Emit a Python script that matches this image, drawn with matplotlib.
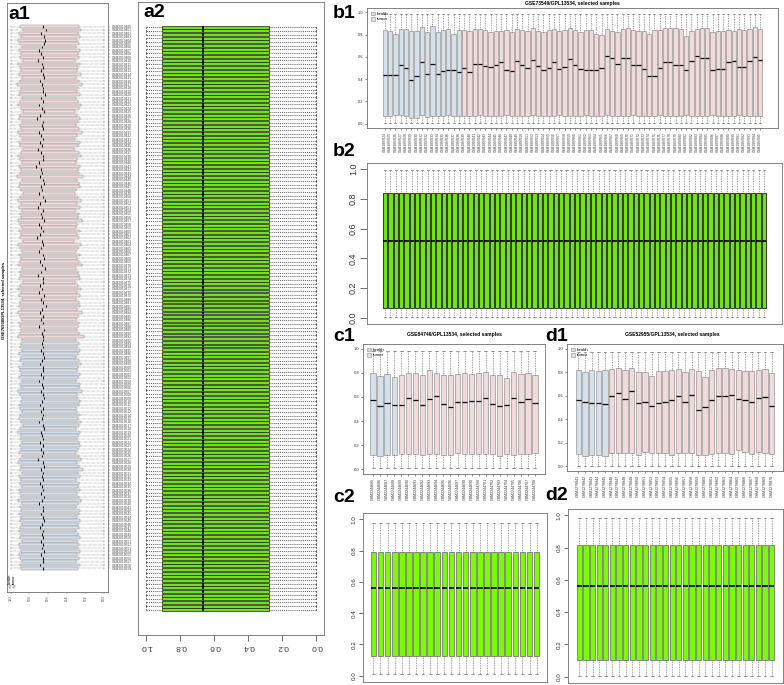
import numpy as np
import matplotlib
matplotlib.use('Agg')
import matplotlib.pyplot as plt
from matplotlib.patches import Patch, Rectangle

plt.rcParams['font.family'] = ['Liberation Sans', 'DejaVu Sans']

# ---------------- data ----------------
# a1: GSE76938 raw (tumor rows first, then health)
a1_med_tumor = [0.66,0.62,0.68,0.64,0.63,0.64,0.67,0.70,0.68,0.66,
                0.71,0.67,0.65,0.68,0.66,0.64,0.69,0.67,0.66,0.65,
                0.63,0.68,0.66,0.70,0.67,0.64,0.69,0.72,0.66,0.67,
                0.65,0.70,0.68,0.66,0.69,0.67,0.71,0.68,0.65,0.66,
                0.70,0.73,0.68,0.67,0.69,0.66,0.64,0.68,0.67,0.70,
                0.65,0.63,0.69,0.71,0.66,0.68,0.67,0.64,0.70,0.68,
                0.66,0.69,0.72,0.67,0.65,0.68,0.70,0.66,0.64,0.69,
                0.67,0.63,0.68,0.71,0.66,0.65,0.69,0.67,0.70,0.64,
                0.68,0.66,0.62,0.67,0.69,0.65,0.68,0.66,0.70,0.64,
                0.67,0.65,0.66]
a1_q3_tumor = [0.90,0.87,0.91,0.89,0.92,0.90,0.88,0.91,0.89,0.90,
               0.87,0.92,0.90,0.89,0.91,0.88,0.90,0.93,0.89,0.90,
               0.91,0.88,0.90,0.92,0.89,0.87,0.90,0.91,0.88,0.90,
               0.89,0.92,0.90,0.88,0.91,0.90,0.87,0.89,0.92,0.90,
               0.88,0.91,0.89,0.90,0.93,0.88,0.90,0.91,0.89,0.87,
               0.90,0.92,0.89,0.91,0.88,0.90,0.89,0.92,0.90,0.88,
               0.91,0.89,0.90,0.87,0.92,0.90,0.88,0.91,0.89,0.90,
               0.92,0.88,0.90,0.89,0.91,0.87,0.90,0.92,0.89,0.91,
               0.88,0.90,0.91,0.89,0.92,0.90,0.88,0.91,0.90,0.89,
               0.90,0.92,0.88]
a1_q1_tumor = [0.27,0.25,0.28,0.26,0.29,0.27,0.30,0.26,0.28,0.27,
               0.31,0.26,0.28,0.29,0.25,0.30,0.27,0.24,0.28,0.29,
               0.26,0.30,0.28,0.25,0.27,0.31,0.29,0.26,0.28,0.30,
               0.27,0.24,0.29,0.31,0.26,0.28,0.32,0.27,0.25,0.29,
               0.30,0.26,0.28,0.27,0.23,0.29,0.27,0.26,0.30,0.31,
               0.28,0.25,0.29,0.26,0.31,0.27,0.28,0.24,0.29,0.30,
               0.26,0.29,0.27,0.32,0.25,0.28,0.30,0.26,0.29,0.27,
               0.24,0.30,0.28,0.27,0.26,0.31,0.28,0.25,0.29,0.26,
               0.30,0.27,0.26,0.29,0.24,0.28,0.30,0.27,0.28,0.29,
               0.27,0.22,0.30]
a1_med_health = [0.67,0.65,0.68,0.66,0.64,0.67,0.69,0.66,0.65,0.68,
                 0.66,0.70,0.67,0.65,0.68,0.66,0.64,0.67,0.69,0.66,
                 0.68,0.65,0.67,0.70,0.66,0.64,0.68,0.67,0.65,0.69,
                 0.66,0.68,0.65,0.67,0.71,0.66,0.64,0.68,0.66,0.67,
                 0.65,0.69,0.67,0.66,0.68,0.64,0.67,0.70,0.65,0.66,
                 0.68,0.66,0.64,0.67,0.69,0.65,0.67,0.66,0.68,0.65,
                 0.67,0.64,0.68,0.66,0.65,0.69,0.66]
a1_q3_health = [0.89,0.90,0.88,0.91,0.89,0.90,0.87,0.91,0.90,0.89,
                0.91,0.88,0.90,0.89,0.92,0.90,0.88,0.89,0.91,0.90,
                0.88,0.90,0.91,0.89,0.87,0.90,0.92,0.89,0.90,0.88,
                0.90,0.89,0.91,0.88,0.90,0.92,0.89,0.90,0.88,0.91,
                0.89,0.90,0.88,0.91,0.90,0.89,0.92,0.88,0.90,0.89,
                0.91,0.89,0.90,0.88,0.90,0.91,0.89,0.90,0.88,0.91,
                0.90,0.89,0.91,0.90,0.88,0.90,0.89]
a1_q1_health = [0.27,0.29,0.26,0.28,0.30,0.27,0.25,0.28,0.29,0.26,
                0.28,0.30,0.26,0.27,0.24,0.29,0.28,0.26,0.27,0.30,
                0.29,0.26,0.28,0.25,0.27,0.30,0.26,0.28,0.29,0.27,
                0.26,0.28,0.30,0.27,0.25,0.29,0.27,0.23,0.28,0.26,
                0.30,0.27,0.28,0.26,0.29,0.27,0.25,0.28,0.30,0.26,
                0.27,0.29,0.26,0.28,0.27,0.30,0.28,0.26,0.29,0.27,
                0.28,0.26,0.29,0.27,0.30,0.26,0.28]
a1_whisker = (0.0, 1.0)
a1_title = "GSE76938/GPL13534, selected samples"
a1_first_gsm = 2019400

# a2: normalized (identical boxes)
a2_box = dict(whislo=0.0, q1=0.28, med=0.665, q3=0.91, whishi=1.0)

# b1: GSE73549 raw (15 health then 57 tumor)
b1_med = [0.44,0.44,0.44,0.53,0.50,0.39,0.43,0.55,0.45,0.54,0.45,0.47,0.48,0.48,0.46,
          0.50,0.46,0.54,0.54,0.52,0.51,0.53,
          0.55,0.48,0.47,0.56,0.53,0.50,0.57,0.52,0.48,0.50,0.55,0.49,0.51,0.58,0.53,0.49,0.48,
          0.48,0.48,0.50,0.61,0.59,0.54,0.59,0.59,0.53,0.53,0.49,0.43,0.43,0.50,0.55,0.55,0.53,
          0.53,0.48,0.56,0.61,0.59,0.59,0.48,0.49,0.49,0.55,0.56,0.51,0.51,0.56,0.60,0.57]
b1_q3 = [0.84,0.83,0.81,0.85,0.85,0.83,0.83,0.87,0.82,0.88,0.82,0.84,0.85,0.81,0.84,
         0.84,0.83,0.85,0.85,0.84,0.82,0.83,
         0.83,0.84,0.82,0.85,0.84,0.83,0.86,0.83,0.82,0.84,0.85,0.83,0.84,0.86,0.84,0.82,0.84,
         0.84,0.81,0.80,0.85,0.83,0.82,0.85,0.86,0.84,0.83,0.83,0.81,0.84,0.84,0.86,0.86,0.86,
         0.85,0.79,0.83,0.85,0.86,0.86,0.82,0.83,0.83,0.84,0.83,0.85,0.84,0.85,0.87,0.85]
b1_q1 = [0.07,0.07,0.075,0.075,0.07,0.05,0.05,0.075,0.06,0.07,0.07,0.07,0.075,0.07,0.07,
         0.07,0.065,0.07,0.075,0.07,0.07,0.065,
         0.07,0.075,0.07,0.065,0.07,0.07,0.075,0.07,0.065,0.07,0.07,0.075,0.07,0.065,0.07,0.07,0.075,
         0.07,0.065,0.07,0.075,0.07,0.07,0.065,0.07,0.075,0.07,0.065,0.07,0.07,0.075,0.07,0.065,0.07,
         0.07,0.075,0.07,0.065,0.07,0.07,0.075,0.07,0.065,0.07,0.07,0.075,0.07,0.065,0.07,0.07]
b1_n_health = 15
b1_whisker = (0.005, 0.99)
b1_title = "GSE73549/GPL13534, selected samples"
b1_first_gsm = 1897624

b2_box = dict(whislo=0.005, q1=0.07, med=0.52, q3=0.84, whishi=0.99)

# c1: GSE84749 raw (4 health then 20 tumor)
c1_med = [0.574,0.522,0.549,0.536,
          0.535,0.59,0.575,0.535,0.58,0.605,0.54,0.52,0.555,0.56,
          0.565,0.565,0.595,0.545,0.525,0.53,0.59,0.555,0.58,0.55]
c1_q3 = [0.80,0.775,0.79,0.77,
         0.78,0.80,0.80,0.785,0.82,0.80,0.78,0.78,0.79,0.80,
         0.79,0.80,0.805,0.78,0.785,0.76,0.805,0.79,0.80,0.78]
c1_q1 = [0.12,0.11,0.115,0.115,
         0.13,0.125,0.125,0.12,0.125,0.13,0.12,0.115,0.135,0.125,
         0.125,0.125,0.125,0.13,0.11,0.125,0.12,0.125,0.125,0.135]
c1_n_health = 4
c1_whisker = (0.01, 0.98)
c1_title = "GSE84749/GPL13534, selected samples"
c1_first_gsm = 2244685

c2_box = dict(whislo=0.01, q1=0.125, med=0.56, q3=0.79, whishi=0.975)

# d1: GSE52955 raw (5 health then 25 tumor)
d1_med = [0.56,0.545,0.535,0.54,0.53,
          0.595,0.625,0.575,0.64,0.535,0.55,0.51,0.54,0.545,0.565,
          0.60,0.55,0.61,0.48,0.505,0.56,0.60,0.60,0.61,0.57,
          0.565,0.55,0.58,0.59,0.51]
d1_q3 = [0.815,0.805,0.82,0.81,0.815,
         0.83,0.84,0.82,0.84,0.80,0.80,0.77,0.81,0.81,0.82,
         0.825,0.80,0.83,0.81,0.76,0.82,0.835,0.835,0.83,0.82,
         0.81,0.81,0.815,0.83,0.79]
d1_q1 = [0.105,0.09,0.095,0.095,0.09,
         0.11,0.11,0.11,0.11,0.10,0.12,0.11,0.11,0.11,0.10,
         0.11,0.11,0.11,0.10,0.10,0.105,0.11,0.11,0.105,0.14,
         0.125,0.105,0.12,0.11,0.105]
d1_n_health = 5
d1_whisker = (0.005, 0.975)
d1_title = "GSE52955/GPL13534, selected samples"
d1_first_gsm = 1278841

d2_box = dict(whislo=0.005, q1=0.105, med=0.565, q3=0.815, whishi=0.985)

yticks = [0.0, 0.2, 0.4, 0.6, 0.8, 1.0]
ytick_labels = ["0.0", "0.2", "0.4", "0.6", "0.8", "1.0"]

# ---------------- style ----------------
PINK = '#F0DADA'
BLUE = '#D6E0EA'
EDGE = '#8C8C8C'
GREEN_A = '#6FE21A'
GREEN_C = '#7CFC00'
SPINE = '#6E6E6E'

W, H = 784, 685
fig = plt.figure(figsize=(W / 100, H / 100), dpi=100)


def px_axes(l, t, r, b):
    return fig.add_axes([l / W, 1 - b / H, (r - l) / W, (b - t) / H])


def fx(x):
    return x / W


def fy(y):
    return 1 - y / H


def stats_from(med, q1, q3, whisk):
    return [dict(whislo=whisk[0], q1=a, med=m, q3=b, whishi=whisk[1], fliers=[])
            for m, a, b in zip(med, q1, q3)]


def draw_boxes(ax, st, colors, orient='vertical', edge=EDGE, lw=0.5, medlw=1.0,
               wlw=0.4, wcol='#444444'):
    n = len(st)
    pos = np.arange(1, n + 1)
    bp = ax.bxp(st, positions=pos, widths=0.8, capwidths=0.4, patch_artist=True,
                showfliers=False, orientation=orient,
                boxprops=dict(linewidth=lw, edgecolor=edge),
                whiskerprops=dict(linestyle=(0, (1.5, 1.5)), linewidth=wlw, color=wcol),
                capprops=dict(linewidth=wlw, color=wcol),
                medianprops=dict(color='black', linewidth=medlw, solid_capstyle='butt'))
    for p, c in zip(bp['boxes'], colors):
        p.set_facecolor(c)
    return (0.5 - 0.04 * n, n + 0.5 + 0.04 * n)


def style_frame(ax, lw=0.6):
    for s in ax.spines.values():
        s.set_color(SPINE)
        s.set_linewidth(lw)


def panel_label(x, y, s):
    fig.text(fx(x), fy(y), s, fontsize=14, fontweight='bold', ha='left', va='top')


def group_legend(ax, fs=3.2):
    h = [Patch(facecolor=BLUE, edgecolor=EDGE, linewidth=0.4, label='health'),
         Patch(facecolor=PINK, edgecolor=EDGE, linewidth=0.4, label='tumor')]
    ax.legend(handles=h, loc='upper left', frameon=False, fontsize=fs,
              handlelength=0.9, handleheight=0.9, handletextpad=0.5,
              borderaxespad=0.4, labelspacing=0.25)


def raw_vertical(ax, med, q1, q3, whisk, n_health, first_gsm, title, title_x, title_y,
                 ytfs=3.0, xlfs=2.4):
    st = stats_from(med, q1, q3, whisk)
    n = len(st)
    colors = [BLUE] * n_health + [PINK] * (n - n_health)
    xl = draw_boxes(ax, st, colors, lw=0.45, medlw=0.9)
    ax.set_xlim(*xl)
    ax.set_ylim(-0.04, 1.04)
    ax.set_yticks(yticks)
    ax.set_yticklabels(ytick_labels, fontsize=ytfs)
    labels = ["GSM%d" % (first_gsm + i) for i in range(n)]
    ax.set_xticks(np.arange(1, n + 1))
    ax.set_xticklabels(labels, rotation=90, fontsize=xlfs)
    ax.tick_params(length=1.5, width=0.4, pad=1.2, colors='#333333')
    style_frame(ax)
    group_legend(ax)
    fig.text(fx(title_x), fy(title_y), title, fontsize=3.6, fontweight='bold',
             ha='center', va='center')


def norm_vertical(ax, box, n, edge, color, ytfs=6, tlen=4):
    st = [dict(box, fliers=[]) for _ in range(n)]
    xl = draw_boxes(ax, st, [color] * n, edge=edge, lw=0.6, medlw=1.2)
    ax.set_xlim(*xl)
    ax.set_ylim(-0.04, 1.04)
    ax.set_yticks(yticks)
    ax.set_yticklabels(ytick_labels, fontsize=ytfs, rotation=90, va='center')
    ax.set_xticks([])
    ax.tick_params(axis='y', length=tlen, width=0.5, pad=1.5, colors='#333333')
    style_frame(ax)


# ---------------- a1 ----------------
A1_BOTTOM = 592
ax = px_axes(7, 3, 108, A1_BOTTOM)
a1_med = a1_med_tumor + a1_med_health
a1_q1 = a1_q1_tumor + a1_q1_health
a1_q3 = a1_q3_tumor + a1_q3_health
st = stats_from(a1_med, a1_q1, a1_q3, a1_whisker)
n = len(st)
cols = [PINK] * len(a1_med_tumor) + [BLUE] * len(a1_med_health)
yl = draw_boxes(ax, st, cols, orient='horizontal', lw=0.35, medlw=0.7, wlw=0.3)
ax.set_ylim(yl[1], yl[0])
ax.set_xlim(1.04, -0.04)
ax.set_xticks(yticks)
ax.set_xticklabels(ytick_labels, fontsize=3, rotation=90)
ax.yaxis.tick_right()
ax.set_yticks(np.arange(1, n + 1))
ax.set_yticklabels(["GSM%d" % (a1_first_gsm + i) for i in range(n)], fontsize=2.3)
ax.tick_params(length=1.5, width=0.3, pad=1.0, colors='#444444')
style_frame(ax)
fig.text(fx(4), fy(300), a1_title, rotation=90, fontsize=3.0, fontweight='bold',
         ha='center', va='center')
# rotated legend at bottom-left of a1
for xx, c, lab in [(10, BLUE, 'health'), (14, PINK, 'tumor')]:
    fig.patches.append(Rectangle((fx(xx - 1.3), fy(A1_BOTTOM - 4)), 2.6 / W, 2.6 / H,
                                 facecolor=c, edgecolor=EDGE, linewidth=0.3,
                                 transform=fig.transFigure, figure=fig))
    fig.text(fx(xx), fy(A1_BOTTOM - 8), lab, rotation=90, fontsize=2.8, ha='center',
             va='bottom')
panel_label(8, 6, 'a1')

# ---------------- a2 ----------------
ax = px_axes(138, 2, 324, 635)
st = [dict(a2_box, fliers=[]) for _ in range(n)]
yl = draw_boxes(ax, st, [GREEN_A] * n, orient='horizontal', edge='#1E1E1E',
                lw=0.5, medlw=1.2, wlw=0.5, wcol='#222222')
ax.set_ylim(yl[1], yl[0])
ax.set_xlim(1.05, -0.045)
ax.set_yticks([])
ax.set_xticks(yticks)
ax.set_xticklabels(ytick_labels, fontsize=6, rotation=180)
ax.tick_params(axis='x', length=4, width=0.5, pad=2, colors='#333333')
style_frame(ax)
panel_label(143, 4, 'a2')

# ---------------- b1 / b2 ----------------
ax = px_axes(367, 8, 778, 128)
raw_vertical(ax, b1_med, b1_q1, b1_q3, b1_whisker, b1_n_health, b1_first_gsm,
             b1_title, 572, 3.5, ytfs=2.8, xlfs=2.3)
panel_label(333, 5, 'b1')

ax = px_axes(367, 163, 782, 324)
norm_vertical(ax, b2_box, len(b1_med), '#1E1E1E', GREEN_A, ytfs=6.5, tlen=5)
panel_label(333, 143, 'b2')

# ---------------- c1 / c2 ----------------
ax = px_axes(363, 344, 545, 474)
raw_vertical(ax, c1_med, c1_q1, c1_q3, c1_whisker, c1_n_health, c1_first_gsm,
             c1_title, 454, 335, ytfs=3.0, xlfs=2.6)
panel_label(333, 328, 'c1')

ax = px_axes(363, 513, 547, 682)
norm_vertical(ax, c2_box, len(c1_med), '#7A7A7A', GREEN_C, ytfs=4.5, tlen=3)
panel_label(333, 489, 'c2')

# ---------------- d1 / d2 ----------------
ax = px_axes(567, 344, 783, 471)
raw_vertical(ax, d1_med, d1_q1, d1_q3, d1_whisker, d1_n_health, d1_first_gsm,
             d1_title, 672, 335, ytfs=3.0, xlfs=2.6)
panel_label(545, 328, 'd1')

ax = px_axes(568, 509, 783, 683)
norm_vertical(ax, d2_box, len(d1_med), '#7A7A7A', GREEN_C, ytfs=4.5, tlen=3)
panel_label(545, 487, 'd2')

fig.savefig('out.png', dpi=100)
